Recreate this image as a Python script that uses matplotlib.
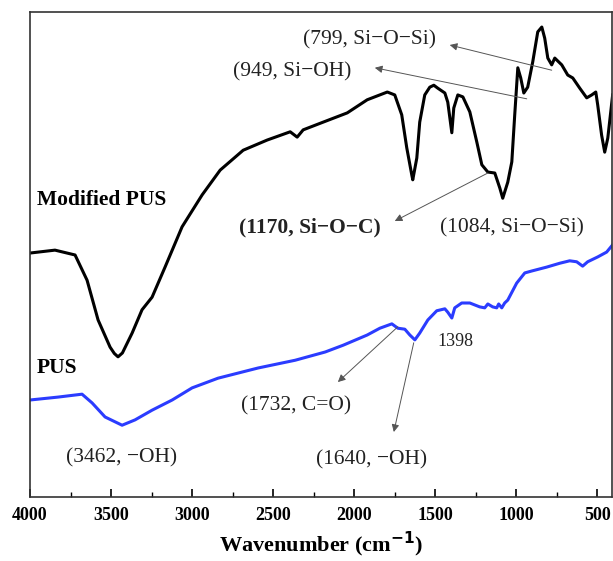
import matplotlib
matplotlib.use("Agg")
import matplotlib.pyplot as plt
from matplotlib.ticker import MultipleLocator

plt.rcParams['font.family'] = ['Liberation Serif', 'DejaVu Serif']

# Spectres FTIR (transmittance arbitraire)
wn_mod = [4000, 3846, 3722, 3648, 3580, 3506, 3480, 3457, 3430, 3370, 3309, 3247,
          3167, 3062, 2938, 2827, 2685, 2537, 2395, 2352, 2315, 2191, 2043, 1920,
          1796, 1750, 1707, 1676, 1645, 1639, 1614, 1596, 1565, 1534, 1509, 1485,
          1441, 1423, 1398, 1386, 1361, 1330, 1287, 1244, 1213, 1176, 1133, 1102,
          1084, 1053, 1028, 1010, 991, 973, 954, 930, 899, 868, 843, 825, 806, 782,
          763, 720, 683, 652, 609, 566, 535, 510, 498, 474, 455, 436, 406]
t_mod = [50.3, 50.9, 49.9, 44.7, 36.5, 30.9, 29.6, 28.9, 29.7, 33.8, 38.6, 41.2,
         47.4, 55.7, 62.3, 67.4, 71.5, 73.6, 75.3, 74.2, 75.7, 77.3, 79.2, 81.9,
         83.5, 82.9, 78.8, 72.0, 66.4, 65.4, 69.9, 77.3, 82.9, 84.5, 84.9, 84.3,
         83.3, 81.4, 75.1, 80.2, 82.9, 82.5, 79.4, 73.2, 68.5, 67.0, 66.8, 63.7,
         61.6, 64.9, 69.1, 78.8, 88.5, 86.4, 83.3, 84.5, 89.7, 95.9, 96.9, 94.6,
         90.5, 89.1, 90.5, 89.1, 87.0, 86.4, 84.3, 82.3, 82.9, 83.5, 80.8, 74.6,
         71.1, 74.0, 82.9]

wn_pus = [4000, 3827, 3679, 3617, 3537, 3432, 3352, 3247, 3123, 3000, 2840, 2593,
          2364, 2179, 2068, 1920, 1842, 1768, 1731, 1688, 1657, 1626, 1596, 1546,
          1491, 1441, 1423, 1398, 1380, 1337, 1287, 1226, 1195, 1176, 1146, 1121,
          1109, 1090, 1072, 1053, 998, 948, 905, 813, 732, 671, 628, 591, 560, 498,
          443, 406]
t_pus = [20.0, 20.6, 21.2, 19.4, 16.5, 14.8, 15.9, 17.9, 20.0, 22.5, 24.5, 26.6,
         28.2, 29.9, 31.3, 33.4, 34.8, 35.7, 34.8, 34.6, 33.4, 32.4, 33.8, 36.5,
         38.4, 38.8, 38.1, 36.9, 39.0, 40.0, 40.0, 39.2, 39.0, 39.8, 39.2, 39.0,
         39.8, 39.0, 40.0, 40.6, 44.1, 46.2, 46.6, 47.4, 48.2, 48.7, 48.5, 47.6,
         48.5, 49.5, 50.5, 52.0]

# Annotations : texte, position du texte, (queue de la flèche, tête de la flèche)
labels = ["(799, Si\u2212O\u2212Si)", "(949, Si\u2212OH)", "(1170, Si\u2212O\u2212C)",
          "(1084, Si\u2212O\u2212Si)", "1398", "(1732, C=O)", "(1640, \u2212OH)",
          "(3462, \u2212OH)"]
label_pos = [(1904, 94.2), (2385, 87.6), (2274, 55.5), (1028, 55.5), (1374, 32.0),
             (2360, 18.8), (1891, 7.6), (3433, 8.0)]
arrows = [((782, 88.0), (1411, 93.2)),
          ((936, 82.1), (1873, 88.5)),
          ((1176, 66.8), (1750, 56.9)),
          ((1731, 35.1), (2101, 23.7)),
          ((1633, 31.8), (1756, 13.4))]

fig = plt.figure(figsize=(6.13, 5.61), dpi=100)
ax = fig.add_axes([30 / 613, 64 / 561, 582 / 613, 485 / 561])

ax.plot(wn_mod, t_mod, color="black", lw=2.2, solid_joinstyle="round")
ax.plot(wn_pus, t_pus, color="#2b3cff", lw=2.2, solid_joinstyle="round")

for txt, (x, y) in zip(labels, label_pos):
    bold = txt.startswith("(1170")
    size = 13 if txt == "1398" else 15.5
    ax.text(x, y, txt, ha="center", va="center", fontsize=size,
            fontweight="bold" if bold else "normal", color="#222222")

for tail, head in arrows:
    ax.annotate("", xy=head, xytext=tail,
                arrowprops=dict(arrowstyle="-|>", lw=0.7, color="#555555",
                                mutation_scale=11, shrinkA=0, shrinkB=0))

ax.text(3957, 61.2, "Modified PUS", ha="left", va="center", fontsize=15.5,
        fontweight="bold")
ax.text(3957, 26.6, "PUS", ha="left", va="center", fontsize=15.5,
        fontweight="bold")

ax.set_xlim(4000, 410)
ax.set_ylim(0, 100)
ax.set_yticks([])
ax.xaxis.set_major_locator(MultipleLocator(500))
ax.xaxis.set_minor_locator(MultipleLocator(250))
ax.tick_params(axis="x", which="major", direction="in", length=6, width=1.2,
               pad=7, labelsize=13)
ax.tick_params(axis="x", which="minor", direction="in", length=3.5, width=1.0)
for lab in ax.get_xticklabels():
    lab.set_fontweight("bold")
for sp in ax.spines.values():
    sp.set_linewidth(1.2)
    sp.set_color("#333333")

ax.set_xlabel("Wavenumber (cm$^{\\mathbf{-1}}$)", fontsize=16, fontweight="bold")

fig.savefig("out.png", dpi=100)
